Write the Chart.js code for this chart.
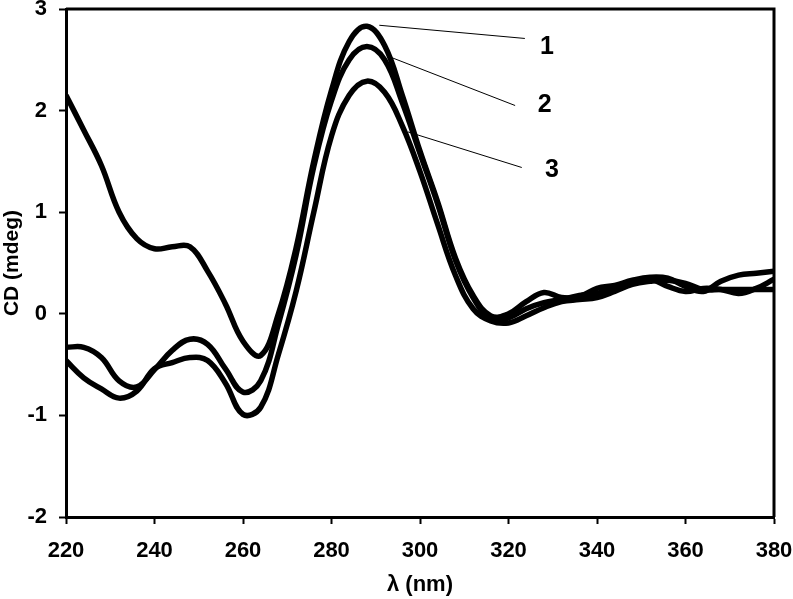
<!DOCTYPE html>
<html>
<head>
<meta charset="utf-8">
<script src="https://cdn.jsdelivr.net/npm/chart.js@4.4.1/dist/chart.umd.min.js"></script>
<style>
html,body{margin:0;padding:0;background:#fff;}
#wrap{width:793px;height:599px;}
</style>
</head>
<body>
<div id="wrap"><canvas id="cd_chart" width="793" height="599"></canvas></div>
<script>
// wavelength grid (nm), every 4 nm
const wavelengths = [220,224,228,232,236,240,244,248,252,256,260,264,268,272,276,280,284,288,292,296,300,
	304,308,312,316,320,324,328,332,336,340,344,348,352,356,360,364,368,372,376,380];

// CD (mdeg) for curves 1, 2, 3
const cd1 = [2.15,1.81,1.46,1.0,0.74,0.64,0.66,0.66,0.42,0.1,-0.27,-0.41,0.0,0.65,1.5,2.2,2.68,2.83,2.64,2.15,1.6,
	1.1,0.55,0.18,-0.02,0.0,0.12,0.21,0.16,0.17,0.25,0.28,0.33,0.36,0.35,0.27,0.22,0.32,0.38,0.40,0.42];
const cd2 = [-0.33,-0.33,-0.43,-0.66,-0.72,-0.55,-0.36,-0.25,-0.3,-0.54,-0.77,-0.66,-0.1,0.58,1.45,2.1,2.5,2.63,2.5,2.08,1.58,
	1.08,0.53,0.16,-0.05,-0.04,0.05,0.11,0.14,0.18,0.2,0.26,0.31,0.34,0.27,0.22,0.25,0.24,0.2,0.25,0.34];
const cd3 = [-0.46,-0.63,-0.74,-0.83,-0.76,-0.54,-0.48,-0.43,-0.46,-0.68,-0.99,-0.92,-0.4,0.22,1.0,1.75,2.15,2.29,2.18,1.85,1.4,
	0.88,0.38,0.05,-0.07,-0.09,-0.02,0.06,0.12,0.14,0.16,0.22,0.29,0.32,0.33,0.3,0.24,0.24,0.24,0.24,0.24];

const xTicks = [220,240,260,280,300,320,340,360,380];
const yTicks = [-2,-1,0,1,2,3];

// curve numbers and their leader lines, in data units
const curveNames = ['1','2','3'];
const nameX = [328.7,328.2,329.8];
const nameY = [2.62,2.05,1.41];
const leaderFromX = [290.8,293.7,297.3];
const leaderFromY = [2.84,2.52,1.79];
const leaderToX = [323.7,321.5,323.0];
const leaderToY = [2.71,2.05,1.44];

const FONT = "Arial, 'Liberation Sans', sans-serif";

function toPoints(ys){
	let pts = [];
	for(let i = 0; i < wavelengths.length; i++){
		pts.push({x: wavelengths[i], y: ys[i]});
	}
	return pts;
}

function lineSet(name, ys){
	return {
		label: name,
		data: toPoints(ys),
		borderColor: '#000',
		borderWidth: 5.5,
		pointRadius: 0,
		tension: 0.4,
		fill: false
	};
}

// box round the plot plus the curve numbers
const framePlugin = {
	id: 'frame',
	afterDatasetsDraw(chart){
		let ctx = chart.ctx;
		let a = chart.chartArea;
		let xs = chart.scales.x, ys = chart.scales.y;
		ctx.save();
		ctx.strokeStyle = '#000';
		ctx.lineWidth = 3;
		ctx.beginPath();
		ctx.moveTo(a.left, a.top);
		ctx.lineTo(a.right, a.top);
		ctx.lineTo(a.right, a.bottom);
		ctx.stroke();

		ctx.lineWidth = 1;
		for(let i = 0; i < curveNames.length; i++){
			ctx.beginPath();
			ctx.moveTo(xs.getPixelForValue(leaderFromX[i]), ys.getPixelForValue(leaderFromY[i]));
			ctx.lineTo(xs.getPixelForValue(leaderToX[i]), ys.getPixelForValue(leaderToY[i]));
			ctx.stroke();
		}
		ctx.fillStyle = '#000';
		ctx.font = 'bold 25px ' + FONT;
		ctx.textAlign = 'center';
		ctx.textBaseline = 'middle';
		for(let i = 0; i < curveNames.length; i++){
			ctx.fillText(curveNames[i], xs.getPixelForValue(nameX[i]), ys.getPixelForValue(nameY[i]));
		}
		ctx.restore();
	}
};

let ctx = document.getElementById('cd_chart').getContext('2d');
let myChart = new Chart(ctx, {
	type: 'line',
	data: {datasets: [lineSet('1', cd1), lineSet('2', cd2), lineSet('3', cd3)]},
	options: {
		responsive: false,
		animation: false,
		layout: {autoPadding: false, padding: {left: 0, top: 9, right: 19, bottom: 0}},
		plugins: {legend: {display: false}, tooltip: {enabled: false}},
		scales: {
			x: {
				type: 'linear', min: 220, max: 380,
				afterBuildTicks(scale){ scale.ticks = xTicks.map(v => ({value: v})); },
				afterFit(scale){ scale.height = 82; scale.paddingLeft = 0; scale.paddingRight = 0; },
				grid: {drawOnChartArea: false, tickLength: 7, tickWidth: 2, tickColor: '#000'},
				border: {display: true, width: 3, color: '#000'},
				ticks: {color: '#000', padding: 14, maxRotation: 0, font: {family: FONT, size: 22, weight: 'bold'}},
				title: {display: true, text: 'λ (nm)', color: '#000', padding: {top: 0, bottom: 1},
					font: {family: FONT, size: 22, weight: 'bold'}}
			},
			y: {
				type: 'linear', min: -2, max: 3,
				afterBuildTicks(scale){ scale.ticks = yTicks.map(v => ({value: v})); },
				afterFit(scale){ scale.width = 66; scale.paddingTop = 0; scale.paddingBottom = 0; },
				grid: {drawOnChartArea: false, tickLength: 7, tickWidth: 2, tickColor: '#000'},
				border: {display: true, width: 3, color: '#000'},
				ticks: {color: '#000', padding: 12, font: {family: FONT, size: 22, weight: 'bold'}},
				title: {display: true, text: 'CD (mdeg)', color: '#000', padding: {top: 0, bottom: 0},
					font: {family: FONT, size: 21, weight: 'bold'}}
			}
		}
	},
	plugins: [framePlugin]
});
</script>
</body>
</html>
